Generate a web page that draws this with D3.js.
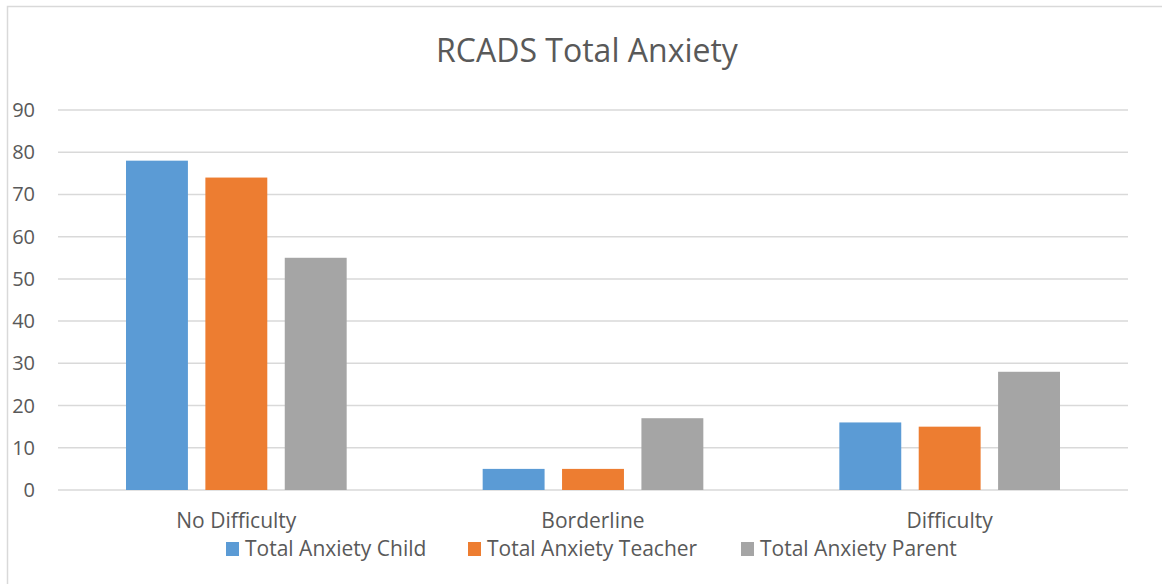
<!DOCTYPE html>
<html>
<head>
<meta charset="utf-8">
<script src="https://cdn.jsdelivr.net/npm/d3@7"></script>
<style>
  body { margin: 0; background: #fff; }
  svg { display: block; font-family: "Open Sans", Lato, sans-serif; }
</style>
</head>
<body>
<svg id="chart" width="1162" height="584"></svg>
<script>
const categories = ["No Difficulty", "Borderline", "Difficulty"];
const seriesNames = ["Total Anxiety Child", "Total Anxiety Teacher", "Total Anxiety Parent"];
const childValues = [78, 5, 16];
const teacherValues = [74, 5, 15];
const parentValues = [55, 17, 28];
const yTicks = [0, 10, 20, 30, 40, 50, 60, 70, 80, 90];
const colors = ["#5b9bd5", "#ed7d31", "#a5a5a5"];

const series = [childValues, teacherValues, parentValues];
const margin = {top: 110, right: 34, bottom: 94, left: 58};
const W = 1162, H = 584;

const svg = d3.select("#chart");

// outer chart border
svg.append("rect")
  .attr("x", 7.5).attr("y", 6.5)
  .attr("width", 1200).attr("height", 700)
  .attr("fill", "none").attr("stroke", "#d9d9d9").attr("stroke-width", 1.5);

const x0 = d3.scaleBand().domain(categories).range([margin.left, W - margin.right]);
const x1 = d3.scaleBand().domain(d3.range(3))
  .range([68, x0.bandwidth() - 68]).paddingInner(0.22);
const y = d3.scaleLinear().domain([0, 90]).range([H - margin.bottom, margin.top]);

// gridlines
svg.append("g").selectAll("line").data(yTicks).join("line")
  .attr("x1", margin.left).attr("x2", W - margin.right)
  .attr("y1", d => y(d)).attr("y2", d => y(d))
  .attr("stroke", "#d9d9d9").attr("stroke-width", 1.5);

// y labels
svg.append("g").selectAll("text").data(yTicks).join("text")
  .attr("x", 35).attr("y", d => y(d) + 7)
  .attr("text-anchor", "end")
  .attr("fill", "#595959").attr("font-size", 20)
  .text(d => d);

// bars
const groups = svg.append("g").selectAll("g").data(categories).join("g")
  .attr("transform", d => "translate(" + x0(d) + ",0)");
groups.selectAll("rect")
  .data((c, ci) => series.map((s, si) => ({si: si, v: s[ci]})))
  .join("rect")
  .attr("x", d => x1(d.si))
  .attr("width", x1.bandwidth())
  .attr("y", d => y(d.v))
  .attr("height", d => y(0) - y(d.v))
  .attr("fill", d => colors[d.si]);

// category labels
svg.append("g").selectAll("text").data(categories).join("text")
  .attr("x", d => x0(d) + x0.bandwidth() / 2)
  .attr("y", 528)
  .attr("text-anchor", "middle")
  .attr("fill", "#595959").attr("font-size", 21)
  .text(d => d);

// title
svg.append("text")
  .attr("x", 587).attr("y", 62)
  .attr("text-anchor", "middle")
  .attr("fill", "#595959").attr("font-size", 32)
  .text("RCADS Total Anxiety");

// legend
const legendX = [226, 468, 741];
const legend = svg.append("g").selectAll("g").data(seriesNames).join("g")
  .attr("transform", (d, i) => "translate(" + legendX[i] + ",0)");
legend.append("rect")
  .attr("x", 0).attr("y", 542).attr("width", 13).attr("height", 14)
  .attr("fill", (d, i) => colors[i]);
legend.append("text")
  .attr("x", 19).attr("y", 556)
  .attr("fill", "#595959").attr("font-size", 21)
  .text(d => d);
</script>
</body>
</html>
